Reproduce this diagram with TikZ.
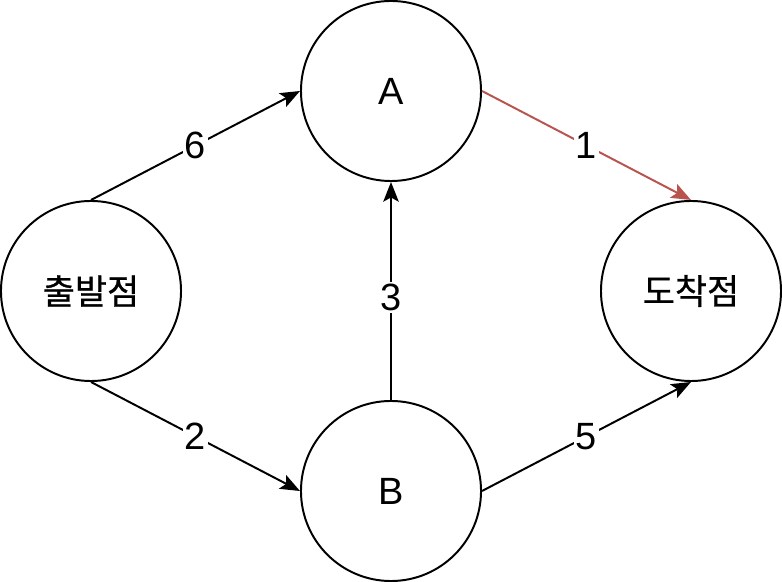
\documentclass[tikz,border=0pt]{standalone}
\usepackage{fontspec}
\setmainfont{Liberation Sans}
\newfontfamily\korean[Scale=0.92,FakeBold=0.8]{Noto Sans CJK KR}
\usetikzlibrary{arrows.meta}
\begin{document}
\begin{tikzpicture}[x=0.025cm,y=-0.025cm,
  place/.style={draw,circle,line width=1.4pt,minimum size=4.5cm,inner sep=0pt,font=\fontsize{27}{32}\selectfont},
  cost/.style={fill=white,inner sep=1.5pt,font=\fontsize{27}{32}\selectfont},
  road/.style={line width=1.4pt,-{Stealth[length=14pt,width=11pt,inset=3pt]}}]
\useasboundingbox (0,0) rectangle (782,582);
% places
\node [place] (start) at (91,291) {\korean 출발점};
\node [place] (a) at (391,91) {A};
\node [place] (b) at (391,491) {B};
\node [place] (goal) at (691,291) {\korean 도착점};
% roads
\draw [road] (start.north) -- (a.west) node [midway,cost] {6};
\draw [road] (start.south) -- (b.west) node [midway,cost] {2};
\draw [road] (b.north) -- (a.south) node [pos=0.47,cost] {3};
\draw [road,draw={rgb,255:red,184;green,84;blue,80},fill={rgb,255:red,184;green,84;blue,80}] (a.east) -- (goal.north) node [midway,cost] {1};
\draw [road] (b.east) -- (goal.south) node [midway,cost] {5};
\end{tikzpicture}
\end{document}
